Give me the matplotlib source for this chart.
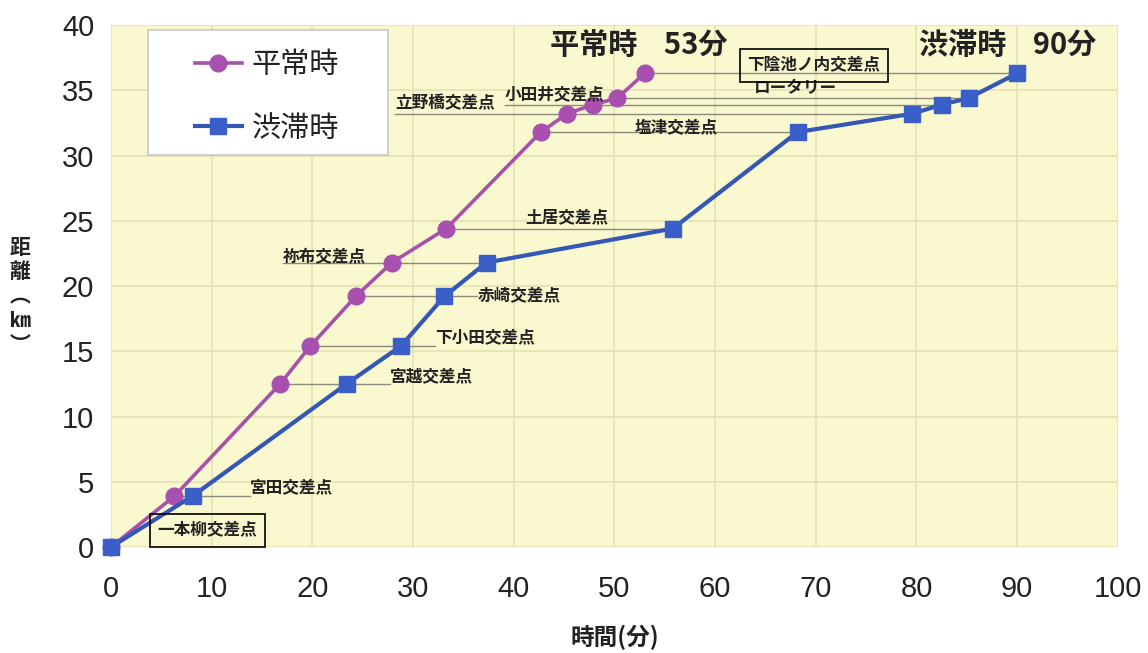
import matplotlib
matplotlib.use("Agg")
import matplotlib.pyplot as plt
from matplotlib.lines import Line2D
from matplotlib.patches import Rectangle

plt.rcParams['font.family'] = ['Noto Sans CJK JP', 'DejaVu Sans']

# ---- data ----
names = ['一本柳交差点', '宮田交差点', '宮越交差点', '下小田交差点', '赤崎交差点', '祢布交差点',
         '土居交差点', '塩津交差点', '立野橋交差点', '小田井交差点', 'ロータリー', '下陰池ノ内交差点']
distance = [0, 3.9, 12.5, 15.4, 19.2, 21.8, 24.4, 31.8, 33.2, 33.9, 34.4, 36.3]
normal_time = [0, 6.3, 16.8, 19.8, 24.3, 27.9, 33.3, 42.7, 45.3, 47.9, 50.3, 53]
jam_time = [0, 8.1, 23.4, 28.8, 33.1, 37.3, 55.8, 68.2, 79.6, 82.5, 85.2, 90]
series_labels = ['平常時', '渋滞時']
total_labels = ['平常時    53分', '渋滞時    90分']
xticks = list(range(0, 101, 10))
yticks = list(range(0, 41, 5))

# label placement (left x in minutes, center y in km)
label_x = [9.6, 13.8, 27.7, 32.2, 36.4, 17.1, 41.1, 52.0, 28.2, 39.1, 63.9, 69.8]
label_y = [1.3, 4.5, 13.0, 16.0, 19.2, 22.2, 25.2, 32.1, 34.0, 34.6, 35.2, 36.9]
boxed = [True, False, False, False, False, False, False, False, False, False, False, True]

fig = plt.figure(figsize=(11.48, 6.53), dpi=100)
ax = fig.add_axes([0.0967, 0.1623, 0.877, 0.7994])

bg = '#f9f8cf'
ax.set_facecolor(bg)
for s in ax.spines.values():
    s.set_visible(False)
ax.set_xlim(0, 100)
ax.set_ylim(0, 40)
ax.set_xticks(xticks)
ax.set_yticks(yticks)
ax.tick_params(length=0, labelsize=21, pad=12, colors='#222222')
ax.tick_params(axis='x', pad=20)
for lab in ax.get_xticklabels() + ax.get_yticklabels():
    lab.set_family(['Liberation Sans', 'DejaVu Sans'])
ax.grid(True, color='#e3e2b4', lw=1.2)
ax.set_axisbelow(True)

purple = '#a652a8'
blue = '#3457b6'

# connector lines + labels
for i in range(1, len(names)):
    xs = min(normal_time[i], label_x[i])
    xe = max(jam_time[i], label_x[i]) if not boxed[i] else jam_time[i]
    ax.plot([xs, xe], [distance[i], distance[i]], color='#8c8c7c', lw=1.0, zorder=1)

for i, nm in enumerate(names):
    if boxed[i]:
        ax.text(label_x[i], label_y[i], nm, ha='center', va='center', fontsize=12,
                fontweight='bold', color='#222222', zorder=5,
                bbox=dict(boxstyle='square,pad=0.45', fc='none', ec='black', lw=1.2))
    else:
        ax.text(label_x[i], label_y[i], nm, ha='left', va='center', fontsize=12,
                fontweight='bold', color='#222222', zorder=5)

ax.plot(normal_time, distance, color=purple, lw=2.6, marker='o', ms=12,
        mfc='#a84fb0', mec='#a84fb0', zorder=3, clip_on=False)
ax.plot(jam_time, distance, color=blue, lw=3.0, marker='s', ms=11,
        mfc='#3a5fc8', mec='#3a5fc8', zorder=4, clip_on=False)

ax.text(43.6, 38.5, total_labels[0], ha='left', va='center', fontsize=21,
        fontweight='bold', color='#222222')
ax.text(80.3, 38.5, total_labels[1], ha='left', va='center', fontsize=21,
        fontweight='bold', color='#222222')

# legend box (px 148-388 x 30-155)
W, H = 1148, 653
fig.patches.append(Rectangle((148 / W, 1 - 155 / H), 240 / W, 125 / H, transform=fig.transFigure,
                             fc='white', ec='#c8c8c8', lw=1.2, zorder=10))
handles = [Line2D([], [], color=purple, lw=2.6, marker='o', ms=12, mfc='#a84fb0', mec='#a84fb0'),
           Line2D([], [], color=blue, lw=3.0, marker='s', ms=11, mfc='#3a5fc8', mec='#3a5fc8')]
leg = fig.legend(handles, series_labels, loc='upper left', bbox_to_anchor=(195 / W, 1 - 50 / H),
                 fontsize=21, frameon=False, labelspacing=1.15, handlelength=1.6,
                 handletextpad=0.35, borderaxespad=0, borderpad=0)
leg.set_zorder(11)
for t in leg.get_texts():
    t.set_color('#222222')

fig.text(615 / W, 1 - 637 / H, '時間(分)', ha='center', va='center', fontsize=17,
         fontweight='bold', color='#222222')
fig.text(20 / W, 1 - 296 / H, '距\n離\n︵\n㎞\n︶', ha='center', va='center', fontsize=15,
         fontweight='bold', color='#222222', linespacing=1.2)

fig.savefig('out.png', dpi=100, facecolor='white')
